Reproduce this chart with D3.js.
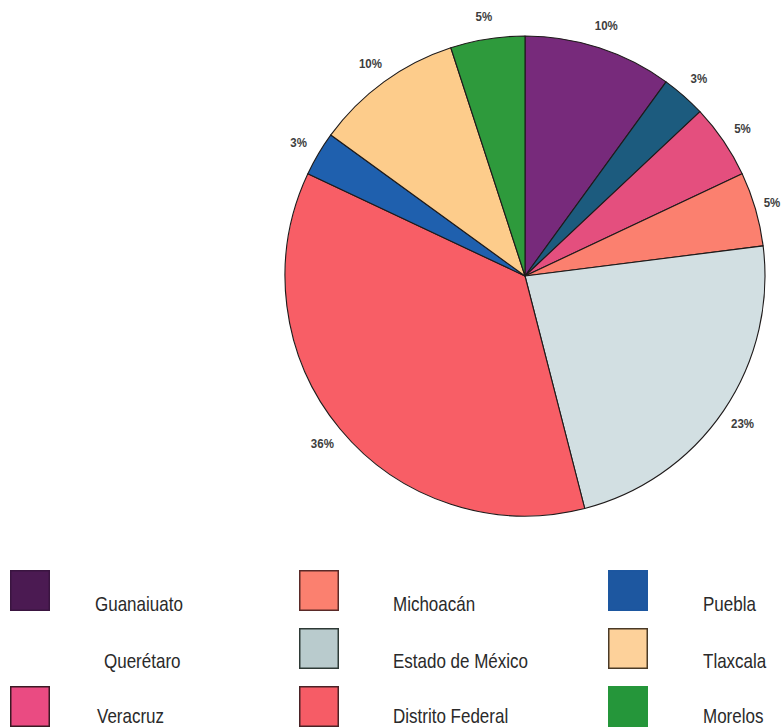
<!DOCTYPE html>
<html>
<head>
<meta charset="utf-8">
<script src="https://cdn.jsdelivr.net/npm/d3@7"></script>
<style>
  html, body { margin: 0; padding: 0; background: #ffffff; }
  svg { display: block; }
</style>
</head>
<body>
<div id="chart"></div>
<script>
// ---- data (clockwise from 12 o'clock) ----
const sliceNames = ["Guanaiuato", "Querétaro", "Veracruz", "Michoacán", "Estado de México",
                    "Distrito Federal", "Puebla", "Tlaxcala", "Morelos"];
const sliceValues = [10, 3, 5, 5, 23, 36, 3, 10, 5];
const sliceLabels = ["10%", "3%", "5%", "5%", "23%", "36%", "3%", "10%", "5%"];
const sliceColors = ["#772a7b", "#1c5b7e", "#e44f7e", "#fb806f", "#d2dfe2",
                     "#f85e66", "#1f60ae", "#fdcc8b", "#2e9a3c"];

// legend, row-major (3 columns)
const legendNames = ["Guanaiuato", "Michoacán", "Puebla",
                     "Querétaro", "Estado de México", "Tlaxcala",
                     "Veracruz", "Distrito Federal", "Morelos"];
const legendSwatchColors = ["#4b1a52", "#fb806f", "#1d57a0",
                            null, "#b9cbcd", "#fdd19a",
                            "#ea4b82", "#f65c66", "#25963a"];
const legendSwatchStrokes = ["#3a1540", "#5a2a28", "#1d57a0",
                             null, "#2e3a36", "#4a3a26",
                             "#3a1a24", "#4a2226", "#25963a"];

const W = 783, H = 728;
const svg = d3.select("#chart").append("svg").attr("width", W).attr("height", H);

// ---- pie ----
const cx = 525, cy = 276, R = 240, labelR = 263;
const pie = d3.pie().sort(null).value(d => d).startAngle(0).endAngle(2 * Math.PI);
const arcs = pie(sliceValues);
const arc = d3.arc().innerRadius(0).outerRadius(R);
const labelArc = d3.arc().innerRadius(labelR).outerRadius(labelR);

const g = svg.append("g").attr("transform", `translate(${cx},${cy})`);
g.selectAll("path.slice").data(arcs).join("path")
  .attr("class", "slice")
  .attr("d", arc)
  .attr("fill", (d, i) => sliceColors[i])
  .attr("stroke", "#1e1a1a")
  .attr("stroke-width", 1.1)
  .attr("stroke-linejoin", "round");

g.selectAll("text.pct").data(arcs).join("text")
  .attr("class", "pct")
  .attr("transform", d => {
    let [x, y] = labelArc.centroid(d);
    x = Math.min(x, W - cx - 11);   // keep the label inside the frame
    return `translate(${x},${y}) scale(0.92,1)`;
  })
  .attr("text-anchor", "middle")
  .attr("dy", "0.35em")
  .attr("font-family", "'Liberation Sans', Arial, sans-serif")
  .attr("font-weight", "bold")
  .attr("font-size", 12.5)
  .attr("fill", "#3d3d3d")
  .text((d, i) => sliceLabels[i]);

// ---- legend ----
const colX = [10, 299, 608];
const textX = [95, 393, 703];
const rowY = [570, 628, 686];
const textBase = [611, 668, 723];
const swW = 40, swH = 41;

const lg = svg.append("g");
legendNames.forEach((name, i) => {
  const c = i % 3, r = Math.floor(i / 3);
  if (legendSwatchColors[i]) {
    lg.append("rect")
      .attr("x", colX[c] + 0.75).attr("y", rowY[r] + 0.75)
      .attr("width", swW - 1.5).attr("height", swH - 1.5)
      .attr("fill", legendSwatchColors[i])
      .attr("stroke", legendSwatchStrokes[i])
      .attr("stroke-width", 1.5);
  }
  const tx = textX[c] + (name === "Querétaro" ? 9 : (name === "Veracruz" ? 2 : 0));
  lg.append("text")
    .attr("transform", `translate(${tx},${textBase[r]}) scale(0.85,1)`)
    .attr("font-family", "'Liberation Sans', Arial, sans-serif")
    .attr("font-size", 20)
    .attr("fill", "#2a2a2a")
    .text(name);
});
</script>
</body>
</html>
